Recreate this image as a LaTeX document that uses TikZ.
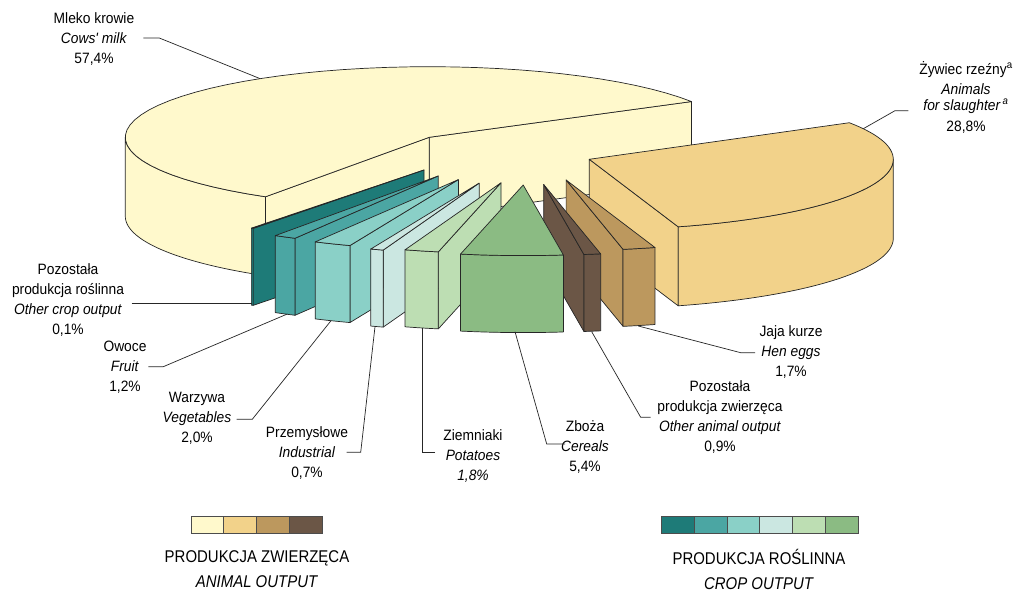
\documentclass[tikz,border=0pt]{standalone}
\usepackage{fontspec}
\setmainfont{Liberation Sans}
\newfontfamily\lblfont[FakeStretch=0.92]{Liberation Sans}
\newfontfamily\legfont[FakeStretch=0.88]{Liberation Sans}
\definecolor{cream}{HTML}{FFF9CC}
\definecolor{zyw}{HTML}{F2D28A}
\definecolor{tan}{HTML}{BC985E}
\definecolor{dbrown}{HTML}{6B5646}
\definecolor{dteal}{HTML}{1E7B78}
\definecolor{teal}{HTML}{4BA6A3}
\definecolor{lteal}{HTML}{8AD0C7}
\definecolor{vlteal}{HTML}{CBE7E1}
\definecolor{lgreen}{HTML}{BDDEB3}
\definecolor{green}{HTML}{8BBB83}
\newcommand\PieA{304}
\newcommand\PieB{70.6}
% top sector: cx cy t1 t2 colour
\newcommand\slicetop[5]{%
  \filldraw[piece, fill=#5] (#1,#2) -- plot[domain=#3:#4, samples=50] ({#1+\PieA*cos(\x)},{#2-\PieB*sin(\x)}) -- cycle;}
% outer curved face: cx cy t1 t2 h colour
\newcommand\sliceside[6]{%
  \filldraw[piece, fill=#6] plot[domain=#3:#4, samples=50] ({#1+\PieA*cos(\x)},{#2-\PieB*sin(\x)}) -- plot[domain=#4:#3, samples=50] ({#1+\PieA*cos(\x)},{#2+#5-\PieB*sin(\x)}) -- cycle;}
% radial cut face: cx cy t h colour
\newcommand\slicecut[5]{%
  \filldraw[piece, fill=#5] (#1,#2) -- ({#1+\PieA*cos(#3)},{#2-\PieB*sin(#3)}) -- ++(0,#4) -- (#1,#2+#4) -- cycle;}
\begin{document}
\begin{tikzpicture}[x=1pt,y=-1pt,
  piece/.style={draw=black!85, line width=0.7pt, line join=round},
  leader/.style={draw=black!85, line width=0.7pt},
  lbl/.style={align=center, inner sep=0pt, font=\lblfont\fontsize{15}{20}\selectfont},
  leg/.style={align=center, inner sep=0pt, font=\legfont\fontsize{17}{25}\selectfont},
  legbox/.style={draw=black!70, line width=0.5pt, minimum width=32.75pt, minimum height=16.5pt, inner sep=0pt, anchor=north west}]
\fill[white] (0,0) rectangle (1021,591);
\useasboundingbox (0,0) rectangle (1021,591);

% --- cows' milk (back piece)
\slicecut{429.3}{137.3}{30.4}{79}{cream}
\slicecut{429.3}{137.3}{237.4}{79}{cream}
\sliceside{429.3}{137.3}{180}{237.4}{79}{cream}
\slicetop{429.3}{137.3}{30.4}{237.4}{cream}

% --- animals for slaughter
\slicecut{589.3}{159.3}{-73}{79}{zyw}
\sliceside{589.3}{159.3}{-73}{0}{79}{zyw}
\slicetop{589.3}{159.3}{-73}{31.2}{zyw}

% --- other crop output (sliver)
\slicecut{424}{170}{-124.2}{77}{dteal}
\sliceside{424}{170}{-124.6}{-124.2}{77}{dteal}
\slicetop{424}{170}{-124.6}{-124.2}{dteal}

% --- fruit
\slicecut{438.2}{176}{-118.1}{77}{teal}
\sliceside{438.2}{176}{-122.4}{-118.1}{77}{teal}
\slicetop{438.2}{176}{-122.4}{-118.1}{teal}

% --- vegetables
\slicecut{458.4}{179.6}{-110.9}{77}{lteal}
\sliceside{458.4}{179.6}{-118.1}{-110.9}{77}{lteal}
\slicetop{458.4}{179.6}{-118.1}{-110.9}{lteal}

% --- industrial
\slicecut{479.2}{183.1}{-108.4}{77}{vlteal}
\sliceside{479.2}{183.1}{-110.9}{-108.4}{77}{vlteal}
\slicetop{479.2}{183.1}{-110.9}{-108.4}{vlteal}

% --- potatoes
\slicecut{501}{182.8}{-101.9}{77}{lgreen}
\sliceside{501}{182.8}{-108.4}{-101.9}{77}{lgreen}
\slicetop{501}{182.8}{-108.4}{-101.9}{lgreen}

% --- hen eggs
\slicecut{566.1}{180}{-79.2}{77}{tan}
\sliceside{566.1}{180}{-79.2}{-73}{77}{tan}
\slicetop{566.1}{180}{-79.2}{-73}{tan}

% --- other animal output
\slicecut{543.7}{184.5}{-82.4}{77}{dbrown}
\sliceside{543.7}{184.5}{-82.4}{-79.2}{77}{dbrown}
\slicetop{543.7}{184.5}{-82.4}{-79.2}{dbrown}

% --- cereals
\sliceside{523.2}{185}{-101.9}{-82.4}{77}{green}
\slicetop{523.2}{185}{-101.9}{-82.4}{green}

% --- labels
\node[lbl] (milk) at (94,39) {Mleko krowie\\\textit{Cows' milk}\\57,4\%};
\node[lbl] (zlab) at (966,97) {Żywiec rzeźny\textsuperscript{a}\\\textit{Animals}\\[-4pt]\textit{for slaughter\,\textsuperscript{a}}\\[1pt]28,8\%};
\node[lbl] (ocrop) at (68,300) {Pozostała\\produkcja roślinna\\\textit{Other crop output}\\0,1\%};
\node[lbl] (fruit) at (125,367) {Owoce\\\textit{Fruit}\\1,2\%};
\node[lbl] (veg) at (197,418) {Warzywa\\\textit{Vegetables}\\2,0\%};
\node[lbl] (ind) at (307,453) {Przemysłowe\\\textit{Industrial}\\0,7\%};
\node[lbl] (pot) at (473,456) {Ziemniaki\\\textit{Potatoes}\\\textit{1,8\%}};
\node[lbl] (cer) at (585,447) {Zboża\\\textit{Cereals}\\5,4\%};
\node[lbl] (oanim) at (720,417) {Pozostała\\produkcja zwierzęca\\\textit{Other animal output}\\0,9\%};
\node[lbl] (eggs) at (791,352) {Jaja kurze\\\textit{Hen eggs}\\1,7\%};

% --- leader lines
\coordinate (m1) at (143.3,38); \coordinate (m2) at (159.3,38); \coordinate (m3) at (260,78.6);
\draw[leader] (m1) -- (m2) -- (m3);
\coordinate (z1) at (908.3,110.7); \coordinate (z2) at (895,110.7); \coordinate (z3) at (863.3,128.7);
\draw[leader] (z1) -- (z2) -- (z3);
\coordinate (c1) at (131.7,303.3); \coordinate (c2) at (252.3,303.3);
\draw[leader] (c1) -- (c2);
\coordinate (f1) at (148.3,366.7); \coordinate (f2) at (163.3,366.7); \coordinate (f3) at (287.3,314);
\draw[leader] (f1) -- (f2) -- (f3);
\coordinate (v1) at (236.7,419.3); \coordinate (v2) at (252.3,419.3); \coordinate (v3) at (331,320.7);
\draw[leader] (v1) -- (v2) -- (v3);
\coordinate (i1) at (346.7,452.3); \coordinate (i2) at (360.7,452.3); \coordinate (i3) at (375,326.7);
\draw[leader] (i1) -- (i2) -- (i3);
\coordinate (p1) at (435,452.7); \coordinate (p2) at (422.7,452.7); \coordinate (p3) at (422.7,328.3);
\draw[leader] (p1) -- (p2) -- (p3);
\coordinate (g1) at (565,444); \coordinate (g2) at (546.7,444); \coordinate (g3) at (515,331.7);
\draw[leader] (g1) -- (g2) -- (g3);
\coordinate (b1) at (650.7,417.3); \coordinate (b2) at (640.7,417.3); \coordinate (b3) at (591.7,331.7);
\draw[leader] (b1) -- (b2) -- (b3);
\coordinate (e1) at (755,352.7); \coordinate (e2) at (740.7,352.7); \coordinate (e3) at (638.3,326);
\draw[leader] (e1) -- (e2) -- (e3);

% --- legend
\node[legbox, fill=cream]  (la1) at (190.5,516) {};
\node[legbox, fill=zyw]    (la2) at (223.25,516) {};
\node[legbox, fill=tan]    (la3) at (256,516) {};
\node[legbox, fill=dbrown] (la4) at (288.75,516) {};
\node[leg] (legA) at (257,569) {PRODUKCJA ZWIERZĘCA\\\textit{ANIMAL OUTPUT}};
\node[legbox, fill=dteal]  (lc1) at (661,516) {};
\node[legbox, fill=teal]   (lc2) at (693.75,516) {};
\node[legbox, fill=lteal]  (lc3) at (726.5,516) {};
\node[legbox, fill=vlteal] (lc4) at (759.25,516) {};
\node[legbox, fill=lgreen] (lc5) at (792,516) {};
\node[legbox, fill=green]  (lc6) at (824.75,516) {};
\node[leg] (legC) at (759,569) {PRODUKCJA ROŚLINNA\\\textit{CROP OUTPUT}};
\end{tikzpicture}
\end{document}
